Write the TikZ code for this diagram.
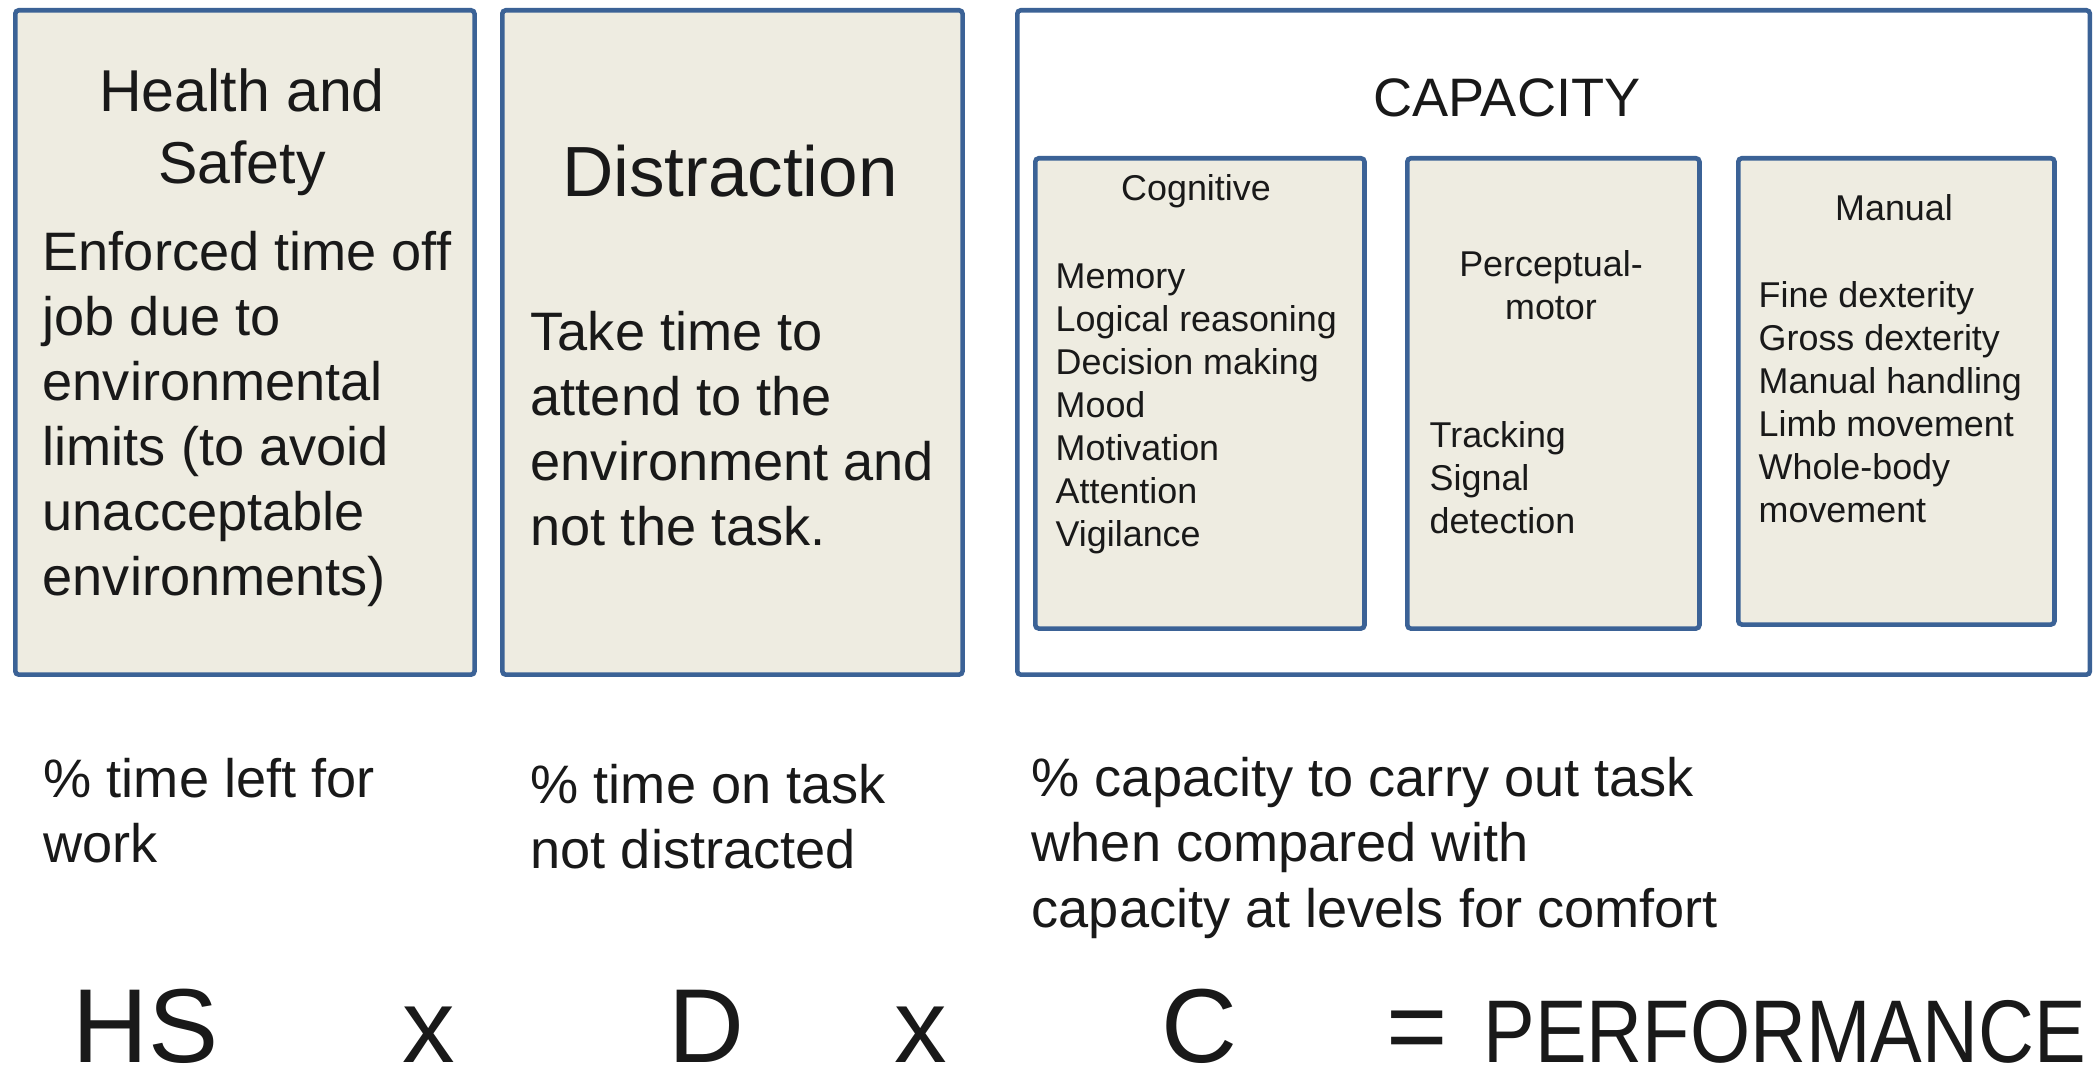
\documentclass[tikz,border=0pt]{standalone}
\usepackage{fontspec}
\setmainfont{Liberation Sans}
\definecolor{bord}{HTML}{3B6296}
\definecolor{tanfill}{HTML}{EEECE1}
\newcommand\myfs[2]{\fontsize{#1}{#2}\selectfont}
\begin{document}
\begin{tikzpicture}[x=0.01cm,y=-0.01cm,
  box/.style={draw=bord, line width=1.3pt, fill=tanfill, rounded corners=1pt, anchor=north west, inner sep=0pt},
  txt/.style={inner sep=0pt, text=black!90},
  big/.style={txt, font=\myfs{15.4pt}{18.5pt}},
  small/.style={txt, font=\myfs{10.2pt}{12.2pt}},
  huge/.style={txt, font=\myfs{29.9pt}{34pt}, anchor=base}]
\useasboundingbox (0,0) rectangle (2100,1074);
\fill[white] (0,0) rectangle (2100,1074);
% boxes
\node[box, minimum width=4.59cm, minimum height=6.64cm] (hs) at (13,8) {};
\node[box, minimum width=4.60cm, minimum height=6.64cm] (d) at (500,8) {};
\node[box, fill=white, minimum width=10.72cm, minimum height=6.64cm] (cap) at (1015,8) {};
\node[box, minimum width=3.29cm, minimum height=4.70cm] (cog) at (1033,156) {};
\node[box, minimum width=2.92cm, minimum height=4.70cm] (per) at (1405,156) {};
\node[box, minimum width=3.16cm, minimum height=4.66cm] (man) at (1736,156) {};
% texts in boxes
\node[txt, font=\myfs{16.8pt}{20.5pt}, align=center] (hst) at (242,132) {Health and\\Safety};
\node[big, align=left, anchor=west] (hsb) at (42,419) {Enforced time off\\job due to\\environmental\\limits (to avoid\\unacceptable\\environments)};
\node[txt, font=\myfs{20.2pt}{24pt}] (dt) at (730,171) {Distraction};
\node[big, align=left, anchor=west] (db) at (530,429) {Take time to\\attend to the\\environment and\\not the task.};
\node[big] (capt) at (1507,98) {CAPACITY};
\node[small] (cogt) at (1196,191) {Cognitive};
\node[small, align=left, anchor=west] (cogb) at (1055,409) {Memory\\Logical reasoning\\Decision making\\Mood\\Motivation\\Attention\\Vigilance};
\node[small, align=center] (pert) at (1551,285) {Perceptual-\\motor};
\node[small, align=left, anchor=west] (perb) at (1429,478) {Tracking\\Signal\\detection};
\node[small] (mant) at (1894,208) {Manual};
\node[small, align=left, anchor=west] (manb) at (1758,402) {Fine dexterity\\Gross dexterity\\Manual handling\\Limb movement\\Whole-body\\movement};
% lower texts
\node[big, align=left, anchor=west] (l1) at (43,811) {\% time left for\\work};
\node[big, align=left, anchor=west] (l2) at (530,817) {\% time on task\\not distracted};
\node[big, align=left, anchor=west] (l3) at (1031,848) {\% capacity to carry out task\\when compared with\\capacity at levels for comfort};
% equation
\node[huge] (ehs) at (146,1063) {HS};
\node[huge] (ex1) at (429,1063) {x};
\node[huge] (ed) at (706,1063) {D};
\node[huge] (ex2) at (921,1063) {x};
\node[huge] (ec) at (1199,1063) {C};
\node[huge] (eeq) at (1417,1063) {=};
\node[txt, font=\myfs{25.3pt}{30pt}, anchor=base west, xscale=0.87] (eperf) at (1483,1063) {PERFORMANCE};
\end{tikzpicture}
\end{document}
